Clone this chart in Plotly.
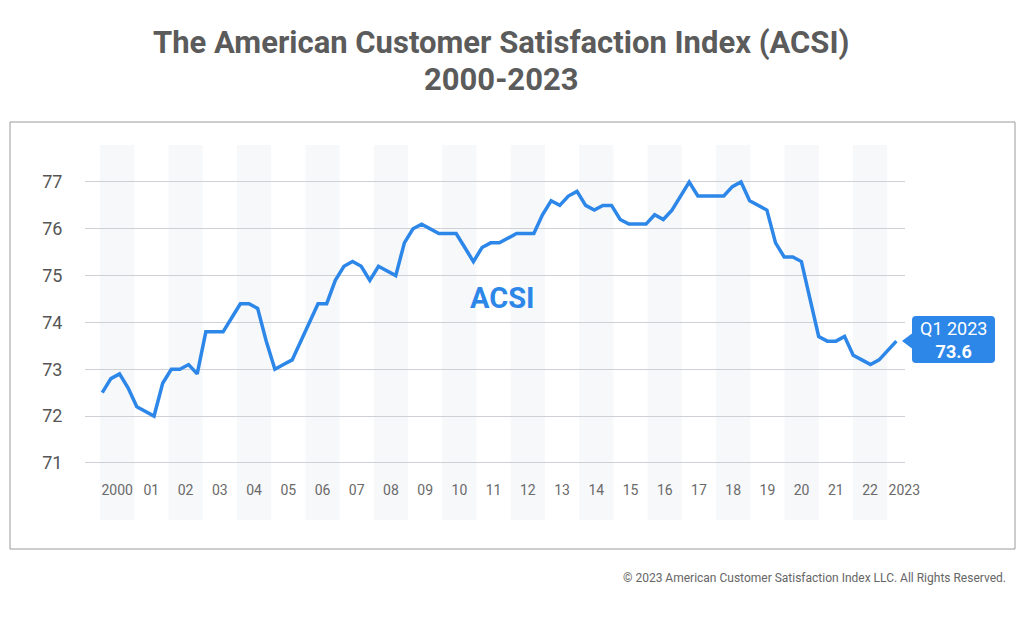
import plotly.graph_objects as go

# ---------------- data ----------------
years = list(range(2000, 2024))
quarters = [f"Q{q} {y}" for y in range(2000, 2023) for q in range(1, 5)] + ["Q1 2023"]
acsi = [
    72.5, 72.8, 72.9, 72.6,   # 2000
    72.2, 72.1, 72.0, 72.7,   # 2001
    73.0, 73.0, 73.1, 72.9,   # 2002
    73.8, 73.8, 73.8, 74.1,   # 2003
    74.4, 74.4, 74.3, 73.6,   # 2004
    73.0, 73.1, 73.2, 73.6,   # 2005
    74.0, 74.4, 74.4, 74.9,   # 2006
    75.2, 75.3, 75.2, 74.9,   # 2007
    75.2, 75.1, 75.0, 75.7,   # 2008
    76.0, 76.1, 76.0, 75.9,   # 2009
    75.9, 75.9, 75.6, 75.3,   # 2010
    75.6, 75.7, 75.7, 75.8,   # 2011
    75.9, 75.9, 75.9, 76.3,   # 2012
    76.6, 76.5, 76.7, 76.8,   # 2013
    76.5, 76.4, 76.5, 76.5,   # 2014
    76.2, 76.1, 76.1, 76.1,   # 2015
    76.3, 76.2, 76.4, 76.7,   # 2016
    77.0, 76.7, 76.7, 76.7,   # 2017
    76.7, 76.9, 77.0, 76.6,   # 2018
    76.5, 76.4, 75.7, 75.4,   # 2019
    75.4, 75.3, 74.5, 73.7,   # 2020
    73.6, 73.6, 73.7, 73.3,   # 2021
    73.2, 73.1, 73.2, 73.4,   # 2022
    73.6,                     # 2023 Q1
]
year_labels = ["2000", "01", "02", "03", "04", "05", "06", "07", "08", "09", "10",
               "11", "12", "13", "14", "15", "16", "17", "18", "19", "20", "21",
               "22", "2023"]
shaded_years = [y for y in years if y % 2 == 0 and y < 2023]
y_ticks = [71, 72, 73, 74, 75, 76, 77]
title_lines = ["The American Customer Satisfaction Index (ACSI)", "2000-2023"]

# ---------------- geometry helpers (page pixel layout) ----------------
W, H = 1024, 618
OFF = 8                              # default page body margin
PL, PR, PT, PB = 85, 905, 145, 520   # plot area in page pixels


def px_x(p):
    return (p - PL) / (PR - PL)


def px_y(p):
    return (PB - p) / (PB - PT)


BLUE = "#2d87e8"
FONT = "Roboto"

fig = go.Figure()

# main line (category axis of quarters)
fig.add_trace(go.Scatter(
    x=quarters, y=acsi, mode="lines",
    line=dict(color=BLUE, width=3.5, shape="linear"),
    hoverinfo="x+y", showlegend=False, xaxis="x", yaxis="y",
))

# year labels drawn on the year axis
fig.add_trace(go.Scatter(
    x=[y + 0.5 for y in years], y=[70.38] * len(years),
    mode="text", text=year_labels, cliponaxis=False,
    textfont=dict(family=FONT, size=14, color="#6a6a6a"),
    hoverinfo="skip", showlegend=False, xaxis="x2", yaxis="y",
))

shapes = []
# alternating year bands
for y in shaded_years:
    shapes.append(dict(type="rect", xref="x2", yref="paper", x0=y, x1=y + 1, y0=0, y1=1,
                       fillcolor="#f7f8fa", line=dict(width=0), layer="below"))

# outer frame
shapes.append(dict(type="rect", xref="paper", yref="paper",
                   x0=px_x(10), x1=px_x(1015), y0=px_y(549), y1=px_y(122),
                   line=dict(color="#9a9a9a", width=1), fillcolor="rgba(0,0,0,0)", layer="above"))

# callout bubble with pointer
bl, br, bt, bb, r = 912, 995, 316, 363, 4
tip_x, tip_y, half = 902, 341, 7.5
pts = [
    ("M", bl + r, bt), ("L", br - r, bt), ("Q", br, bt, br, bt + r), ("L", br, bb - r),
    ("Q", br, bb, br - r, bb), ("L", bl + r, bb), ("Q", bl, bb, bl, bb - r),
    ("L", bl, tip_y + half), ("L", tip_x, tip_y), ("L", bl, tip_y - half),
    ("L", bl, bt + r), ("Q", bl, bt, bl + r, bt),
]
path = ""
for p in pts:
    cmd = p[0]
    coords = p[1:]
    seg = []
    for i in range(0, len(coords), 2):
        seg.append(f"{px_x(coords[i]):.5f},{px_y(coords[i + 1]):.5f}")
    path += cmd + " ".join(seg) + " "
path += "Z"
shapes.append(dict(type="path", xref="paper", yref="paper", path=path,
                   fillcolor=BLUE, line=dict(width=0), layer="above"))

title_font = dict(family=FONT, size=31, color="#5b5b5b", weight="bold")
annotations = [
    dict(text=title_lines[0], xref="paper", yref="paper", x=px_x(501), y=px_y(43),
         showarrow=False, xanchor="center", yanchor="middle", font=title_font),
    dict(text=title_lines[1], xref="paper", yref="paper", x=px_x(501), y=px_y(79),
         showarrow=False, xanchor="center", yanchor="middle", font=title_font),
    dict(text="ACSI", xref="paper", yref="paper", x=px_x(502), y=px_y(298),
         showarrow=False, xanchor="center", yanchor="middle",
         font=dict(family=FONT, size=29, color=BLUE, weight="bold")),
    dict(text=f"{quarters[-1]}<br><b>{acsi[-1]}</b>", xref="paper", yref="paper",
         x=px_x((bl + br) / 2), y=px_y((bt + bb) / 2),
         showarrow=False, xanchor="center", yanchor="middle",
         font=dict(family=FONT, size=18, color="white")),
    dict(text="© 2023 American Customer Satisfaction Index LLC. All Rights Reserved.",
         xref="paper", yref="paper", x=px_x(1008), y=px_y(578),
         showarrow=False, xanchor="right", yanchor="middle",
         font=dict(family=FONT, size=12, color="#666666")),
]

fig.update_layout(
    width=W, height=H,
    margin=dict(l=PL - OFF, r=W - (PR - OFF), t=PT - OFF, b=H - (PB - OFF), pad=0),
    paper_bgcolor="white", plot_bgcolor="rgba(0,0,0,0)",
    xaxis=dict(type="category", range=[-2, 93], showticklabels=False, showgrid=False,
               zeroline=False, showline=False, ticks="", fixedrange=True),
    xaxis2=dict(overlaying="x", anchor="y", side="bottom", range=[1999.56, 2023.52],
                visible=False, fixedrange=True),
    yaxis=dict(range=[69.78, 77.79], tickvals=y_ticks, ticks="outside", ticklen=18,
               tickcolor="rgba(0,0,0,0)",
               tickfont=dict(family=FONT, size=18, color="#555555"),
               showgrid=True, gridcolor="#cdd0d4", gridwidth=1,
               zeroline=False, showline=False, fixedrange=True),
    shapes=shapes, annotations=annotations,
    showlegend=False,
)

fig.write_html("out.html")
